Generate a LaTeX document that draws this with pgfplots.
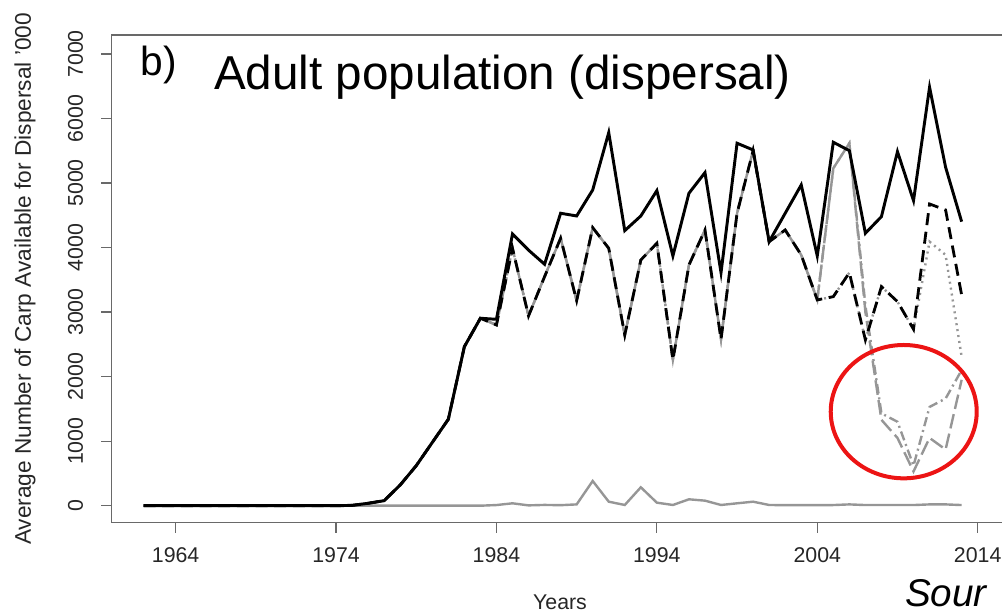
\documentclass[border=0pt]{standalone}
\usepackage{fontspec}
\setmainfont{Liberation Sans}
\usepackage{pgfplots}
\usepackage{pgfplotstable}
\pgfplotsset{compat=1.18}

\definecolor{axisgray}{RGB}{105,105,105}
\definecolor{linegray}{RGB}{150,150,150}
\definecolor{ringred}{RGB}{236,20,20}

% year, total, dashed black, dotted grey, long-dash grey, dash-dot grey, small grey
\pgfplotstableread{
year total dashed dotted longdash dashdot small
1962 0 0 0 0 0 0
1963 0 0 0 0 0 0
1964 0 0 0 0 0 0
1965 0 0 0 0 0 0
1966 0 0 0 0 0 0
1967 0 0 0 0 0 0
1968 0 0 0 0 0 0
1969 0 0 0 0 0 0
1970 0 0 0 0 0 0
1971 0 0 0 0 0 0
1972 0 0 0 0 0 0
1973 0 0 0 0 0 0
1974 0 0 0 0 0 0
1975 5 5 5 5 5 0
1976 37 37 37 37 37 0
1977 78 78 78 78 78 0
1978 321 321 321 321 321 0
1979 620 620 620 620 620 0
1980 980 980 980 980 980 0
1981 1339 1339 1339 1339 1339 0
1982 2464 2464 2464 2464 2464 0
1983 2904 2904 2904 2904 2904 0
1984 2888 2800 2800 2800 2800 10
1985 4210 3988 3988 3988 3988 37
1986 3960 2940 2940 2940 2940 5
1987 3741 3549 3549 3549 3549 12
1988 4531 4144 4144 4144 4144 8
1989 4489 3177 3177 3177 3177 20
1990 4892 4308 4308 4308 4308 383
1991 5781 3988 3988 3988 3988 62
1992 4262 2645 2645 2645 2645 11
1993 4489 3807 3807 3807 3807 285
1994 4882 4066 4066 4066 4066 47
1995 3870 2258 2258 2258 2258 11
1996 4841 3730 3730 3730 3730 99
1997 5161 4272 4272 4272 4272 78
1998 3611 2578 2578 2578 2578 11
1999 5616 4531 4531 4531 4531 37
2000 5512 5501 5501 5501 5501 62
2001 4091 4091 4091 4091 4091 11
2002 4531 4272 4272 4272 4272 8
2003 4970 3885 3885 3885 3885 8
2004 3870 3188 3188 3188 3188 8
2005 5631 3239 3239 5228 5228 10
2006 5501 3611 3611 5616 5616 20
2007 4221 2568 2568 3000 3100 10
2008 4479 3394 3394 1330 1430 10
2009 5486 3162 3162 1050 1300 10
2010 4727 2734 2734 530 620 10
2011 6483 4675 4091 1050 1530 20
2012 5244 4582 3885 870 1660 20
2013 4401 3265 2310 1950 2100 10
}\carp

\begin{document}
\begin{tikzpicture}
\begin{axis}[
    at={(0pt,0pt)}, anchor=south west,
    scale only axis,
    width=668.9pt, height=365.8pt,
    xmin=1960, xmax=2015.6,
    ymin=-263, ymax=7294,
    xtick={1964,1974,...,2014},
    ytick={0,1000,...,7000},
    tick pos=left,
    tick align=outside,
    major tick length=7.5pt,
    tick style={axisgray, line width=0.9pt},
    axis line style={axisgray, line width=1.1pt},
    /pgf/number format/1000 sep={},
    /pgf/number format/assume math mode=true,
    scaled y ticks=false,
    ticklabel style={font=\fontsize{16}{19}\selectfont, text=black!85, inner sep=0pt},
    xticklabel style={anchor=north},
    yticklabel style={rotate=90, anchor=south},
    xticklabel shift=11pt,
    yticklabel shift=13.5pt,
]
\addplot[linegray, line width=1.8pt] table[x=year, y=small] {\carp};
\addplot[linegray, line width=1.8pt, dash pattern=on 1.5pt off 3pt] table[x=year, y=dotted] {\carp};
\addplot[linegray, line width=1.8pt, dash pattern=on 7pt off 3pt on 1.5pt off 3pt] table[x=year, y=dashdot] {\carp};
\addplot[linegray, line width=1.8pt, dash pattern=on 11pt off 4pt] table[x=year, y=longdash] {\carp};
\addplot[black, line width=2.1pt, dash pattern=on 9pt off 5pt] table[x=year, y=dashed] {\carp};
\addplot[black, line width=2.2pt] table[x=year, y=total] {\carp};
\draw[ringred, line width=3pt] (axis cs:2009.39,1457) ellipse [x radius=54.75pt, y radius=50pt];
\end{axis}
\node[anchor=base west, font=\fontsize{30.5}{34}\selectfont] at (18.5pt,335pt) {b)};
\node[anchor=base west, font=\fontsize{35.7}{40}\selectfont] at (73.4pt,324.5pt) {Adult population (dispersal)};
\node[rotate=90, font=\fontsize{17}{20}\selectfont, text=black!85] at (-64.9pt,182.8pt) {Average Number of Carp Available for Dispersal '000};
\node[anchor=base, font=\fontsize{16}{19}\selectfont, text=black!85] at (336.4pt,-65.3pt) {Years};
\node[anchor=base west, inner sep=0pt, font=\itshape\fontsize{29}{34}\selectfont] at (595pt,-62.5pt) {Sour};
\pgfresetboundingbox
\useasboundingbox (-83.6pt,-68.5pt) rectangle (667.9pt,392pt);
\end{tikzpicture}
\end{document}
